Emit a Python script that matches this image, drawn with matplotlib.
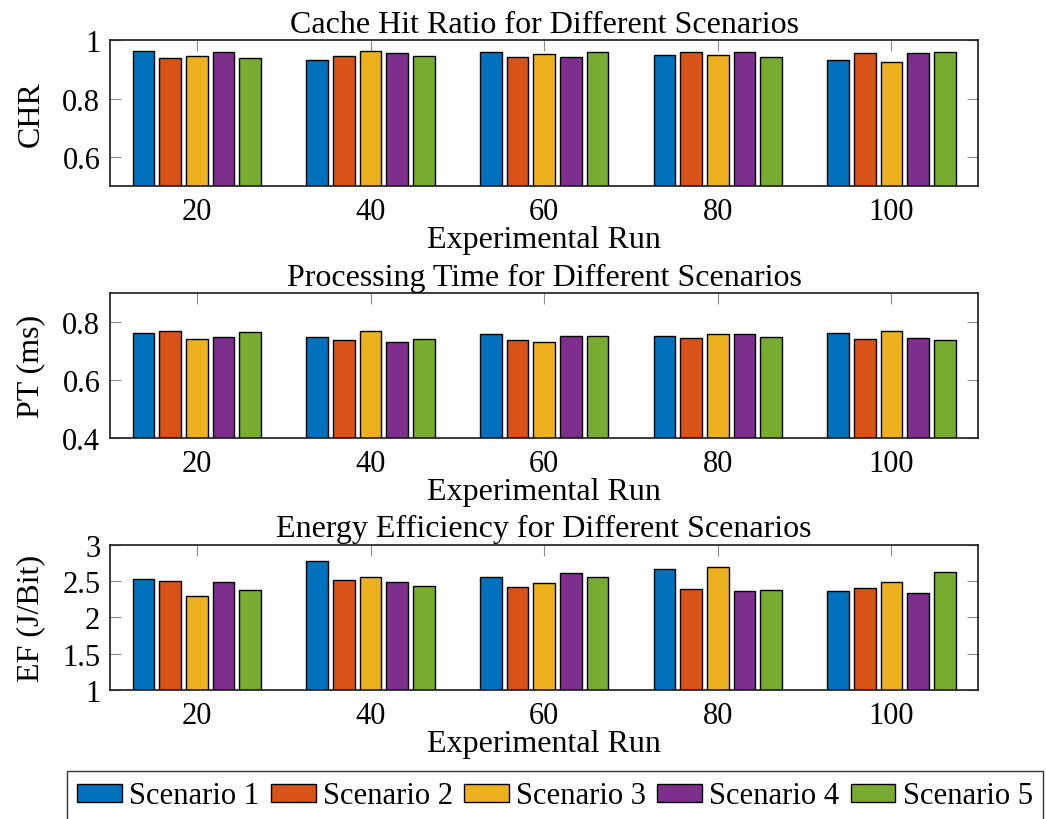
import numpy as np
import matplotlib
matplotlib.use("Agg")
import matplotlib.pyplot as plt

# experimental runs and the five scenarios
runs = [20, 40, 60, 80, 100]
scenarios = ["Scenario 1", "Scenario 2", "Scenario 3", "Scenario 4", "Scenario 5"]
colors = ["#0072BD", "#D95319", "#EDB120", "#7E2F8E", "#77AC30"]

# cache hit ratio, one list per scenario (values per run)
chr_s1 = [0.965, 0.934, 0.962, 0.949, 0.933]
chr_s2 = [0.939, 0.948, 0.944, 0.959, 0.957]
chr_s3 = [0.948, 0.963, 0.954, 0.950, 0.927]
chr_s4 = [0.959, 0.956, 0.942, 0.960, 0.958]
chr_s5 = [0.940, 0.947, 0.960, 0.944, 0.959]

# processing time (ms)
pt_s1 = [0.763, 0.749, 0.760, 0.753, 0.762]
pt_s2 = [0.770, 0.738, 0.738, 0.746, 0.741]
pt_s3 = [0.742, 0.769, 0.730, 0.758, 0.770]
pt_s4 = [0.748, 0.732, 0.751, 0.760, 0.744]
pt_s5 = [0.766, 0.741, 0.751, 0.749, 0.738]

# energy efficiency (J/Bit)
ef_s1 = [2.53, 2.78, 2.56, 2.67, 2.36]
ef_s2 = [2.50, 2.51, 2.42, 2.39, 2.41]
ef_s3 = [2.29, 2.56, 2.47, 2.69, 2.48]
ef_s4 = [2.48, 2.48, 2.61, 2.36, 2.34]
ef_s5 = [2.37, 2.43, 2.55, 2.37, 2.63]

chr_vals = [chr_s1, chr_s2, chr_s3, chr_s4, chr_s5]
pt_vals = [pt_s1, pt_s2, pt_s3, pt_s4, pt_s5]
ef_vals = [ef_s1, ef_s2, ef_s3, ef_s4, ef_s5]

plt.rcParams["font.family"] = "Liberation Serif"

fig = plt.figure(figsize=(10.46, 8.2), dpi=100)

panels = [
    ("Cache Hit Ratio for Different Scenarios", "CHR", chr_vals, (0.5, 1.0), [0.6, 0.8, 1.0], ["0.6", "0.8", "1"], 0.7722),
    ("Processing Time for Different Scenarios", "PT (ms)", pt_vals, (0.4, 0.9), [0.4, 0.6, 0.8], ["0.4", "0.6", "0.8"], 0.4643),
    ("Energy Efficiency for Different Scenarios", "EF (J/Bit)", ef_vals, (1, 3), [1, 1.5, 2, 2.5, 3], ["1", "1.5", "2", "2.5", "3"], 0.1573),
]

pitch = 3.07   # distance between neighbouring bars in a group
width = 2.5
x = np.array(runs, dtype=float)
handles = []

for title, ylab, vals, ylim, yt, ytl, bottom in panels:
    ax = fig.add_axes([0.1052, bottom, 0.8301, 0.1772])
    for i, v in enumerate(vals):
        b = ax.bar(x + (i - 2) * pitch, v, width, color=colors[i],
                   edgecolor="black", linewidth=1.0, label=scenarios[i], zorder=2)
        if len(handles) < 5:
            handles.append(b)
    ax.set_xlim(10, 110)
    ax.set_ylim(*ylim)
    ax.set_xticks(runs)
    ax.set_xticklabels([str(r) for r in runs])
    ax.set_yticks(yt)
    ax.set_yticklabels(ytl)
    ax.tick_params(direction="in", length=8, width=0.8, color="#8c8c8c",
                   labelsize=22, top=True, right=True)
    ax.tick_params(axis="x", pad=8)
    ax.tick_params(axis="y", pad=7)
    for s in ax.spines.values():
        s.set_linewidth(1.2)
        s.set_color("#1a1a1a")
    ax.set_title(title, fontsize=23, pad=6)
    ax.set_xlabel("Experimental Run", fontsize=23, labelpad=-1)
    ax.set_ylabel(ylab, fontsize=23, labelpad=12)

leg = fig.legend(handles=handles, labels=scenarios, loc="center",
                 bbox_to_anchor=(555 / 1046, 1 - 797 / 820), ncol=5,
                 prop={"family": "Liberation Serif", "size": 22.1},
                 handlelength=1.46, handleheight=0.52, handletextpad=0.23,
                 columnspacing=0.37, borderpad=0.35, fancybox=False,
                 edgecolor="#333333", framealpha=1)
leg.get_frame().set_linewidth(1.0)

fig.savefig("out.png", dpi=100)
